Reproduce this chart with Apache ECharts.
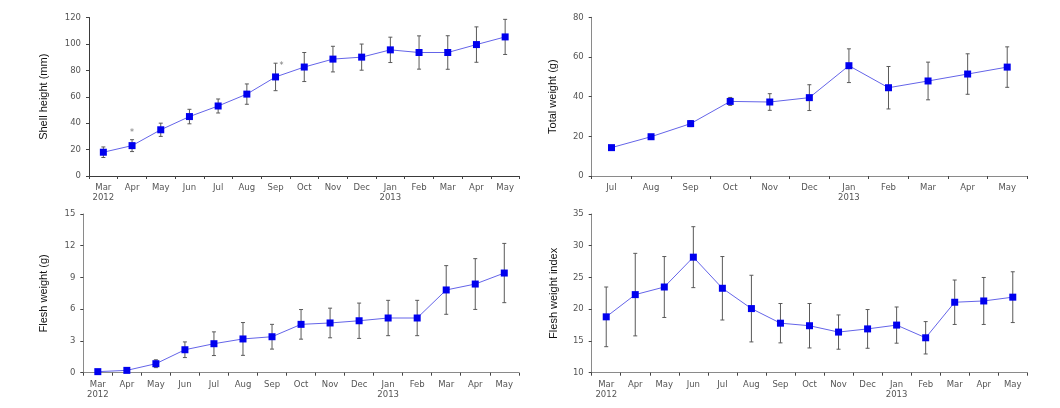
<!DOCTYPE html>
<html><head><meta charset="utf-8">
<script src="https://cdn.jsdelivr.net/npm/echarts@6/dist/echarts.min.js"></script>
<style>html,body{margin:0;padding:0;background:#fff}#c{width:1060px;height:408px}</style>
</head><body><div id="c"></div>
<script>
const monthsLong = ['Mar\n2012','Apr','May','Jun','Jul','Aug','Sep','Oct','Nov','Dec','Jan\n2013','Feb','Mar','Apr','May'];
const monthsShort = ['Jul','Aug','Sep','Oct','Nov','Dec','Jan\n2013','Feb','Mar','Apr','May'];

const shellMean = [18, 23, 35, 45, 53, 62, 75, 82.5, 88.5, 90, 95.5, 93.5, 93.5, 99.5, 105.3];
const shellErr  = [4, 4.5, 5, 5.5, 5.3, 7.7, 10.4, 11, 9.7, 9.9, 9.6, 12.6, 12.7, 13.4, 13.3];
const shellStars = [[1, 32.8], [6, 83.3]];

const totalMean = [14.3, 19.8, 26.4, 37.6, 37.3, 39.5, 55.6, 44.5, 47.9, 51.4, 54.9];
const totalErr  = [0.6, 0.6, 1.5, 2, 4.2, 6.5, 8.5, 10.7, 9.5, 10.2, 10.2];

const fleshMean = [0.1, 0.22, 0.85, 2.17, 2.74, 3.19, 3.4, 4.57, 4.7, 4.91, 5.17, 5.17, 7.82, 8.38, 9.42];
const fleshErr  = [0.05, 0.1, 0.37, 0.74, 1.12, 1.55, 1.17, 1.4, 1.4, 1.67, 1.67, 1.67, 2.3, 2.4, 2.8];

const fwiMean = [18.8, 22.3, 23.5, 28.2, 23.3, 20.1, 17.8, 17.4, 16.4, 16.9, 17.5, 15.5, 21.1, 21.3, 21.9];
const fwiErr  = [4.7, 6.5, 4.8, 4.8, 5.0, 5.25, 3.1, 3.5, 2.7, 3.05, 2.85, 2.55, 3.5, 3.7, 4.0];

const panels = [
  {cats: monthsLong, mean: shellMean, err: shellErr, name: 'Shell height (mm)', min: 0, max: 120, interval: 20, gap: 40,
   axisColor: '#3a3a3a', grid: {left: 89, top: 17.5, width: 430.5, height: 158.5}},
  {cats: monthsShort, mean: totalMean, err: totalErr, name: 'Total weight (g)', min: 0, max: 80, interval: 20, gap: 33,
   axisColor: '#8a8a8a', grid: {left: 591.7, top: 17.3, width: 435.3, height: 158.7}},
  {cats: monthsLong, mean: fleshMean, err: fleshErr, name: 'Flesh weight (g)', min: 0, max: 15, interval: 3, gap: 34,
   axisColor: '#8a8a8a', grid: {left: 83.3, top: 214, width: 435.5, height: 158.7}},
  {cats: monthsLong, mean: fwiMean, err: fwiErr, name: 'Flesh weight index', min: 10, max: 35, interval: 5, gap: 32,
   axisColor: '#8a8a8a', grid: {left: 591.7, top: 214, width: 435.6, height: 158.7}}
];

const labelStyle = {color: '#555', fontFamily: 'DejaVu Sans', fontSize: 8.5, lineHeight: 10};

const grid = [], xAxis = [], yAxis = [], series = [];
panels.forEach((p, i) => {
  grid.push(Object.assign({containLabel: false}, p.grid));
  xAxis.push({type: 'category', gridIndex: i, data: p.cats, boundaryGap: true,
    axisLine: {lineStyle: {color: p.axisColor, width: 1}},
    axisTick: {show: true, interval: 0, length: 3, lineStyle: {color: '#444'}},
    axisLabel: Object.assign({interval: 0, margin: 7}, labelStyle),
    splitLine: {show: false}});
  yAxis.push({type: 'value', gridIndex: i, min: p.min, max: p.max, interval: p.interval,
    name: p.name, nameLocation: 'middle', nameGap: p.gap, nameRotate: 90,
    nameTextStyle: {color: '#111', fontFamily: 'Liberation Sans', fontSize: 11},
    axisLine: {show: true, lineStyle: {color: p.axisColor, width: 1}},
    axisTick: {show: true, length: 3, lineStyle: {color: '#444'}},
    axisLabel: Object.assign({margin: 8}, labelStyle),
    splitLine: {show: false}});
  const errData = p.mean.map((m, k) => [k, m - p.err[k], m + p.err[k]]);
  series.push({type: 'custom', xAxisIndex: i, yAxisIndex: i, z: 1, silent: true,
    encode: {x: 0, y: [1, 2]}, data: errData,
    renderItem: function (params, api) {
      const x = api.value(0);
      const lo = api.coord([x, api.value(1)]);
      const hi = api.coord([x, api.value(2)]);
      const cw = 2;
      const st = {stroke: '#5a5a5a', lineWidth: 1};
      return {type: 'group', children: [
        {type: 'line', shape: {x1: lo[0], y1: lo[1], x2: hi[0], y2: hi[1]}, style: st},
        {type: 'line', shape: {x1: lo[0] - cw, y1: lo[1], x2: lo[0] + cw, y2: lo[1]}, style: st},
        {type: 'line', shape: {x1: hi[0] - cw, y1: hi[1], x2: hi[0] + cw, y2: hi[1]}, style: st}
      ]};
    }});
  series.push({type: 'line', xAxisIndex: i, yAxisIndex: i, z: 3, data: p.mean,
    symbol: 'rect', symbolSize: 7, showAllSymbol: true,
    lineStyle: {color: '#6464e8', width: 1},
    itemStyle: {color: '#0000ee', borderWidth: 0},
    animation: false});
});
series.push({type: 'scatter', xAxisIndex: 0, yAxisIndex: 0, data: shellStars, symbolSize: 0, silent: true,
  label: {show: true, formatter: '*', position: 'inside', color: '#555', fontSize: 8, fontFamily: 'DejaVu Sans'},
  labelLayout: function (params) {
    return params.dataIndex === 1 ? {dx: 6} : {};
  }});

const chart = echarts.init(document.getElementById('c'), null, {renderer: 'canvas'});
chart.setOption({animation: false, grid, xAxis, yAxis, series});
</script></body></html>
